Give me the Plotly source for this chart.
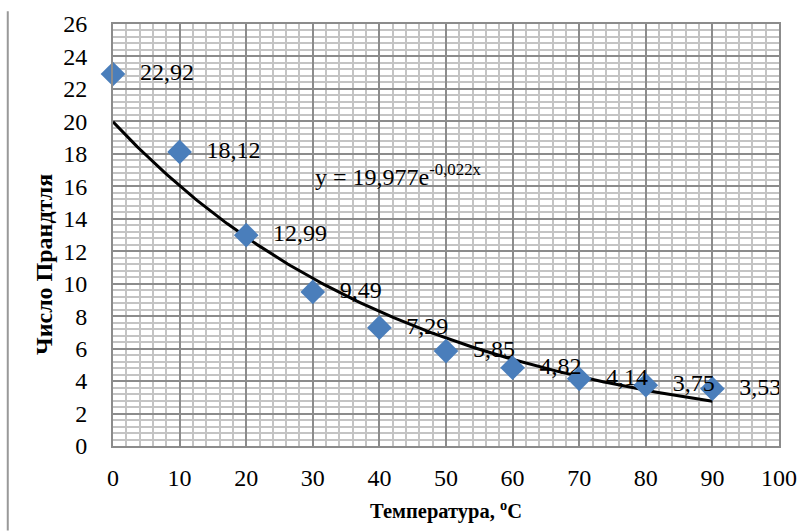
import numpy as np
import plotly.graph_objects as go

temps = [0, 10, 20, 30, 40, 50, 60, 70, 80, 90]
prandtl = [22.92, 18.12, 12.99, 9.49, 7.29, 5.85, 4.82, 4.14, 3.75, 3.53]
labels = ["22,92", "18,12", "12,99", "9,49", "7,29", "5,85", "4,82", "4,14", "3,75", "3,53"]
trend_a = 19.977
trend_b = -0.022
x_ticks = [0, 10, 20, 30, 40, 50, 60, 70, 80, 90, 100]
y_ticks = [0, 2, 4, 6, 8, 10, 12, 14, 16, 18, 20, 22, 24, 26]

font = "Liberation Serif, Times New Roman, serif"

tx = np.linspace(0, 90, 200)
ty = trend_a * np.exp(trend_b * tx)

fig = go.Figure()
fig.add_trace(go.Scatter(x=tx, y=ty, mode="lines",
                         line=dict(color="black", width=3), hoverinfo="skip"))
fig.add_trace(go.Scatter(x=temps, y=prandtl, mode="markers+text",
                         marker=dict(symbol="diamond", size=19, color="#4a7ebb",
                                     line=dict(width=0)),
                         text=["  \u200a" + l for l in labels], textposition="middle right",
                         textfont=dict(family=font, size=24, color="black"),
                         cliponaxis=False))

fig.add_annotation(x=30, y=16.7, xref="x", yref="y", xanchor="left", yanchor="middle",
                   text="y = 19,977e<sup>-0,022x</sup>", showarrow=False,
                   font=dict(family=font, size=24, color="black"))

fig.add_annotation(x=-0.127, y=0.43, xref="paper", yref="paper", textangle=-90,
                   text="<b>Число Прандтля</b>", showarrow=False,
                   font=dict(family=font, size=24, color="black"))

fig.add_shape(type="line", xref="paper", yref="paper", x0=-0.158, x1=-0.158, y0=-0.2, y1=1.03,
              line=dict(color="#999999", width=2))

fig.update_layout(
    width=809, height=531,
    margin=dict(l=113, r=30, t=24, b=85),
    plot_bgcolor="white", paper_bgcolor="white",
    showlegend=False,
    font=dict(family=font, size=24, color="black"),
    xaxis=dict(range=[0, 100], tickvals=x_ticks, showgrid=True, gridcolor="#8c8c8c",
               gridwidth=1.5, zeroline=False, showline=True, linecolor="#8c8c8c",
               linewidth=2, mirror=True, ticks="", ticklabelstandoff=9,
               tickfont=dict(family=font, size=24),
               minor=dict(dtick=2, showgrid=True, gridcolor="#c4c4c4", gridwidth=1.5),
               title=dict(text="<b>Температура, <sup>o</sup>C</b>",
                          font=dict(family=font, size=20.5), standoff=14)),
    yaxis=dict(range=[0, 26], tickvals=y_ticks, showgrid=True, gridcolor="#8c8c8c",
               gridwidth=1.5, zeroline=False, showline=True, linecolor="#8c8c8c",
               linewidth=2, mirror=True, ticks="", ticklabelstandoff=19,
               tickfont=dict(family=font, size=24),
               minor=dict(dtick=0.4, showgrid=True, gridcolor="#c4c4c4", gridwidth=1.5)),
)

fig.write_html("out.html")
